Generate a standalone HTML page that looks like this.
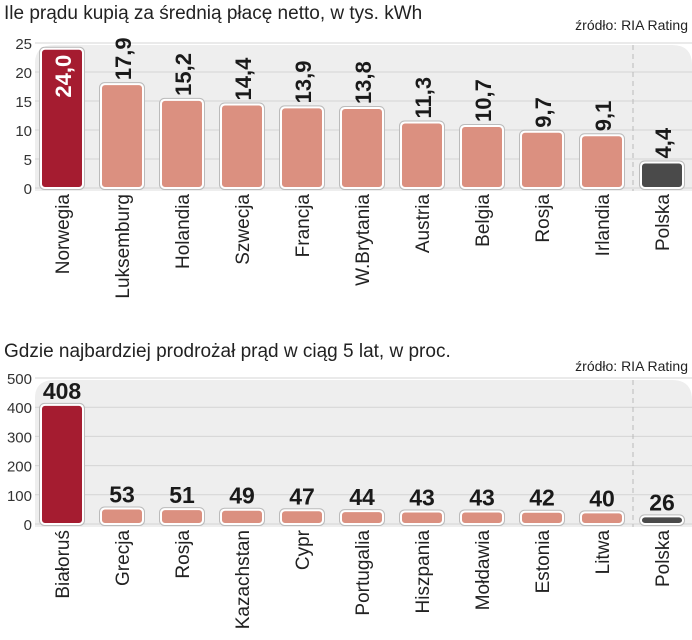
<!DOCTYPE html>
<html><head><meta charset="utf-8"><style>
body{margin:0;background:#fff;width:692px;height:640px;overflow:hidden}
svg{display:block;font-family:"Liberation Sans",sans-serif}
.lab{font-size:19px;fill:#222}
.val{font-size:22px;font-weight:bold;fill:#1a1a1a;font-family:"Liberation Sans Narrow","Liberation Sans",sans-serif}
.tick{font-size:15px;fill:#333}
</style></head><body>
<svg id="c" width="692" height="640">
<text x="4" y="19" font-size="19" fill="#222">Ile prądu kupią za średnią płacę netto, w tys. kWh</text>
<text x="688" y="30" font-size="14" fill="#222" text-anchor="end">źródło: RIA Rating</text>
<text x="4" y="357" font-size="19" fill="#222">Gdzie najbardziej prodrożał prąd w ciąg 5 lat, w proc.</text>
<text x="688" y="371" font-size="14" fill="#222" text-anchor="end">źródło: RIA Rating</text>
</svg>
<script>
const cats1=["Norwegia","Luksemburg","Holandia","Szwecja","Francja","W.Brytania","Austria","Belgia","Rosja","Irlandia","Polska"];
const vals1=[24.0,17.9,15.2,14.4,13.9,13.8,11.3,10.7,9.7,9.1,4.4];
const ticks1=[0,5,10,15,20,25];
const cats2=["Białoruś","Grecja","Rosja","Kazachstan","Cypr","Portugalia","Hiszpania","Mołdawia","Estonia","Litwa","Polska"];
const vals2=[408,53,51,49,47,44,43,43,42,40,26];
const ticks2=[0,100,200,300,400,500];
const svg=document.getElementById('c');
const NS='http://www.w3.org/2000/svg';
function mk(t,a,txt){const e=document.createElementNS(NS,t);for(const k in a)e.setAttribute(k,a[k]);if(txt!=null)e.textContent=txt;svg.appendChild(e);return e;}
function chart(cats,vals,ticks,y0,ymax,pxTop,rot,pre){
  const y=v=>y0-(v/ymax)*(y0-pxTop);
  const x=i=>62+i*60;
  let bg=mk('path',{d:`M35,${y0+3} L35,${pxTop+20} Q35,${pxTop+2} 55,${pxTop+2} L672,${pxTop+2} Q692,${pxTop+2} 692,${pxTop+22} L692,${y0+3} Z`,fill:'#eeeeee'});
  
  
  ticks.forEach(t=>{
    let g=mk('line',{x1:35,x2:692,y1:y(t),y2:y(t),stroke:'#d4d4d4','stroke-width':1});
    
    
    let tt=mk('text',{x:32,y:y(t)+6,'text-anchor':'end',class:'tick'},t);
    
    
  });
  let d=mk('line',{x1:633,x2:633,y1:pxTop+2,y2:y0+3,stroke:'#bbb','stroke-dasharray':'5,4'});
  
  
  vals.forEach((v,i)=>{
    const last=i===cats.length-1;
    const fill=i===0?'#a51c30':(last?'#4a4a4a':'#db9080');
    const top=y(v), h=Math.max(y0-top,4);
    let r=mk('rect',{x:x(i)-21,y:y0-h,width:42,height:h,rx:4,fill:fill,stroke:'#fff','stroke-width':2});
    
    
    let o=mk('rect',{x:x(i)-22.5,y:y0-h-1.5,width:45,height:h+3,rx:5,fill:'none',stroke:'#bbb','stroke-width':1});
    
    
    let lt=String(v).replace('.',',');
    if(rot){
      if(Number.isInteger(v))lt=v+',0';
      let tv;
      if(i===0) tv=mk('text',{x:0,y:0,class:'val',transform:`translate(${x(i)+9},${top+6}) rotate(-90)`,'text-anchor':'end',style:'fill:#fff'},lt);
      else tv=mk('text',{x:0,y:0,class:'val',transform:`translate(${x(i)+9},${top-4}) rotate(-90)`},lt);
      
      
    }else{
      let tv=mk('text',{x:x(i),y:top-6,class:'val','text-anchor':'middle',style:'font-size:23px'},lt);
      
      
    }
    let cl=mk('text',{x:0,y:0,class:'lab','text-anchor':'end',transform:`translate(${x(i)+7},${y0+6}) rotate(-90)`},cats[i]);
    
    
  });
}
chart(cats1,vals1,ticks1,188,25,43,true,'chart1');
chart(cats2,vals2,ticks2,524,500,378,false,'chart2');
</script>
</body></html>
